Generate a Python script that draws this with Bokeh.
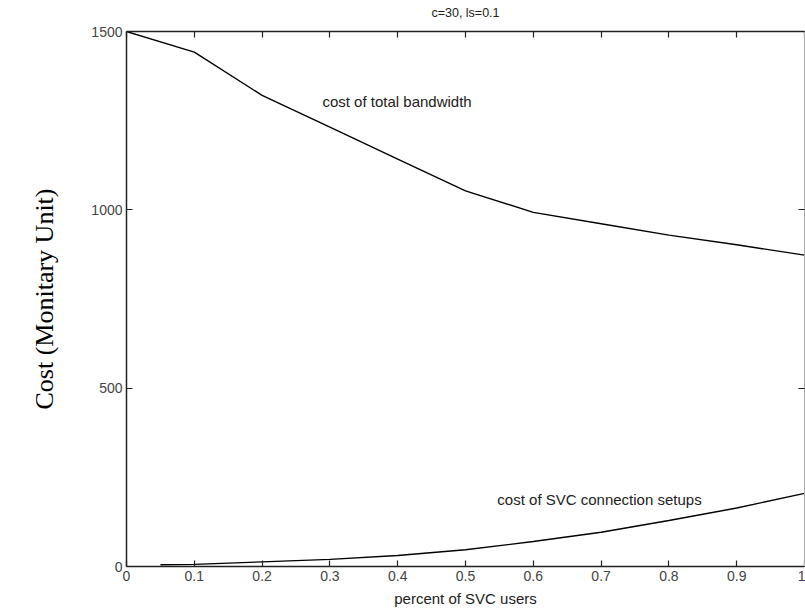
from bokeh.plotting import figure
from bokeh.models import LinearAxis, FixedTicker, Range1d, Label
from bokeh.embed import file_html
from bokeh.resources import INLINE

# Share of SVC users and the two cost curves
svc_share = [0.0, 0.1, 0.2, 0.3, 0.4, 0.5, 0.6, 0.7, 0.8, 0.9, 1.0]
bandwidth_cost = [1500, 1442, 1321, 1232, 1142, 1053, 993, 961, 929, 902, 873]

setup_share = [0.05, 0.1, 0.2, 0.3, 0.4, 0.5, 0.6, 0.7, 0.8, 0.9, 1.0]
setup_cost = [5, 6, 13, 20, 31, 47, 70, 96, 129, 164, 205]

x_ticks = [0, 0.1, 0.2, 0.3, 0.4, 0.5, 0.6, 0.7, 0.8, 0.9, 1]
y_ticks = [0, 500, 1000, 1500]

SANS = "Liberation Sans"
SERIF = "Liberation Serif"
INK = "#222222"
LABEL_INK = "#444444"

p = figure(width=805, height=612, output_backend="svg", toolbar_location=None,
           x_range=Range1d(0, 1), y_range=Range1d(0, 1500),
           x_axis_location=None, y_axis_location=None,
           min_border_left=126, min_border_right=1,
           min_border_top=31, min_border_bottom=46)

p.xgrid.visible = False
p.ygrid.visible = False
p.outline_line_color = None
p.background_fill_color = "white"
p.border_fill_color = "white"


def style_axis(ax, ticks, labels=True):
    ax.ticker = FixedTicker(ticks=ticks)
    ax.axis_line_color = INK
    ax.axis_line_width = 1.5
    ax.major_tick_line_color = INK
    ax.major_tick_line_width = 1.2
    ax.major_tick_in = 6
    ax.major_tick_out = 0
    ax.minor_tick_line_color = None
    ax.major_label_text_font = SANS
    ax.major_label_text_color = LABEL_INK
    ax.major_label_text_font_size = "14px" if labels else "0px"
    ax.major_label_standoff = 4 if labels else 0


# bottom axis with labels
xb = LinearAxis()
style_axis(xb, x_ticks)
xb.major_label_overrides = {0: "0", 1: "1"}
xb.axis_label = "percent of SVC users"
xb.axis_label_text_font = SANS
xb.axis_label_text_font_size = "15px"
xb.axis_label_text_font_style = "normal"
xb.axis_label_text_color = INK
xb.axis_label_standoff = 6
p.add_layout(xb, "below")

# top axis: ticks only, carries the heading as its label
xt = LinearAxis()
style_axis(xt, x_ticks, labels=False)
xt.axis_label = "c=30, ls=0.1"
xt.axis_label_text_font = SANS
xt.axis_label_text_font_size = "12.5px"
xt.axis_label_text_font_style = "normal"
xt.axis_label_text_color = INK
xt.axis_label_standoff = 12
p.add_layout(xt, "above")

# left axis with labels
yl = LinearAxis()
style_axis(yl, y_ticks)
yl.axis_label = "Cost (Monitary Unit)"
yl.axis_label_text_font = SERIF
yl.axis_label_text_font_size = "26px"
yl.axis_label_text_font_style = "normal"
yl.axis_label_text_color = "black"
yl.axis_label_standoff = 29
p.add_layout(yl, "left")

# right axis, ticks only
yr = LinearAxis()
style_axis(yr, y_ticks, labels=False)
yr.axis_line_color = "#aaaaaa"
yr.axis_line_width = 1
p.add_layout(yr, "right")

p.line(svc_share, bandwidth_cost, line_color="black", line_width=1.4)
p.line(setup_share, setup_cost, line_color="black", line_width=1.4)

p.add_layout(Label(x=0.289, y=1304, text="cost of total bandwidth",
                   text_font=SANS, text_font_size="15px", text_color=INK,
                   text_baseline="middle", text_align="left"))
p.add_layout(Label(x=0.547, y=188, text="cost of SVC connection setups",
                   text_font=SANS, text_font_size="15px", text_color=INK,
                   text_baseline="middle", text_align="left"))

open("out.html", "w").write(file_html(p, INLINE))
